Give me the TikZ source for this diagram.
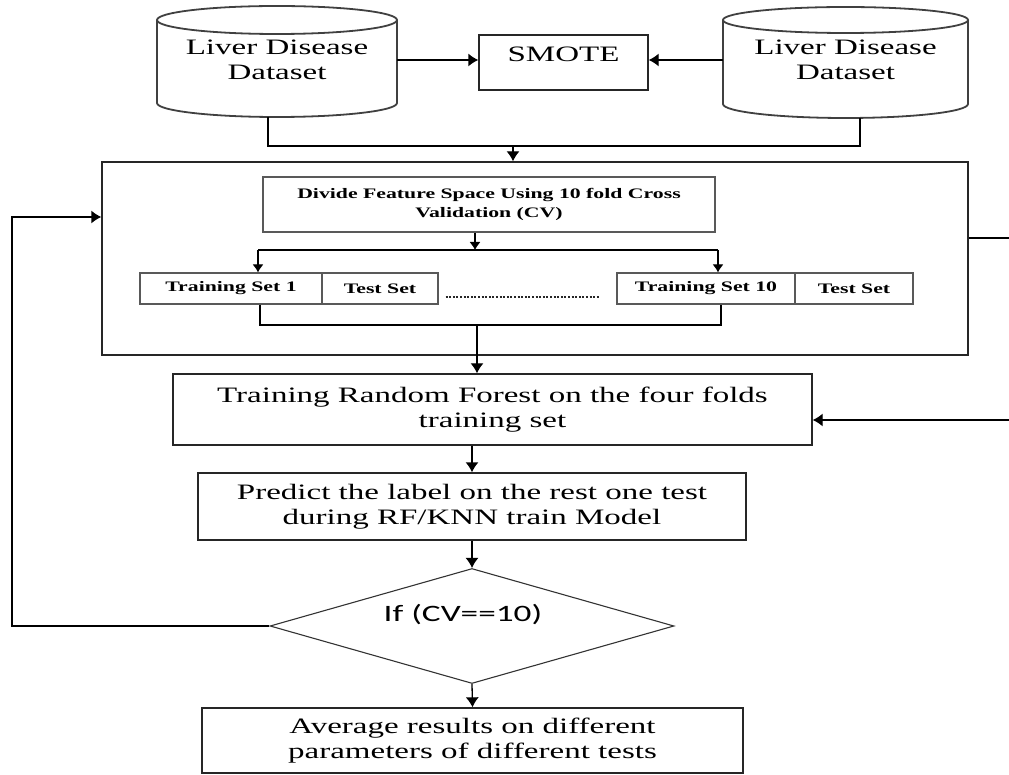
\documentclass[tikz,border=0pt]{standalone}
\usepackage{fontspec}
\setmainfont{Liberation Serif}[FakeStretch=1.5]
\newfontfamily\sansfnt{Carlito}[FakeStretch=1.5]
\usetikzlibrary{arrows.meta,shapes.geometric,calc}
\newcommand\bigfnt{\fontsize{22}{24.5}\selectfont}
\newcommand\smlfnt{\fontsize{14.5}{19}\selectfont\bfseries}
\begin{document}
\begin{tikzpicture}[x=1pt,y=-1pt,
  box/.style={draw=black!85, line width=1.3pt, inner sep=0pt, align=center, font=\bigfnt},
  sbox/.style={draw=black!65, line width=1.2pt, inner sep=0pt, align=center, font=\smlfnt},
  cyl/.style={draw=black!75, line width=1.8pt},
  ln/.style={line width=1.3pt},
  arr/.style={line width=1.3pt, -{Latex[length=10pt,width=13pt]}},
  sarr/.style={line width=1.1pt, -{Latex[length=8pt,width=11pt]}},
  dots/.style={draw=black!85, line width=1.4pt, dash pattern=on 2pt off 1.6pt}]
\useasboundingbox (0,0) rectangle (1009,775);
% left cylinder
\draw[cyl] (277,20) ellipse [x radius=120, y radius=14];
\draw[cyl] (157,20) -- (157,103) .. controls (157,110.7) and (210.7,117) .. (277,117)
  .. controls (343.3,117) and (397,110.7) .. (397,103) -- (397,20);
\node[inner sep=0pt, minimum width=240pt, align=center, font=\bigfnt] (ld1) at (277,60) {Liver Disease\\Dataset};
% right cylinder
\draw[cyl] (845.5,20) ellipse [x radius=122.5, y radius=13];
\draw[cyl] (723,20) -- (723,104) .. controls (723,111.7) and (777.8,118) .. (845.5,118)
  .. controls (913.2,118) and (968,111.7) .. (968,104) -- (968,20);
\node[inner sep=0pt, minimum width=245pt, align=center, font=\bigfnt] (rd1) at (845.5,60) {Liver Disease\\Dataset};
% SMOTE
\node[box, minimum width=169pt, minimum height=55pt, text depth=16pt] (smote) at (563.5,62.5) {SMOTE};
% big box and its contents
\node[box, minimum width=866pt, minimum height=193pt] (big) at (535,258.5) {};
\node[sbox, minimum width=452pt, minimum height=55pt] (div) at (489,204.5) {Divide Feature Space Using 10 fold Cross\\Validation (CV)};
\node[sbox, minimum width=182pt, minimum height=31pt] (ts1) at (231,288.5) {Training Set 1};
\node[sbox, minimum width=116pt, minimum height=31pt] (te1) at (380,288.5) {Test Set};
\node[sbox, minimum width=178pt, minimum height=31pt] (ts10) at (706,288.5) {Training Set 10};
\node[sbox, minimum width=118pt, minimum height=31pt] (te10) at (854,288.5) {Test Set};
% lower chain
\node[box, minimum width=639pt, minimum height=71pt] (rf) at (492.5,409.5) {Training Random Forest on the four folds\\training set};
\node[box, minimum width=548pt, minimum height=67pt] (pred) at (472,506.5) {Predict the label on the rest one test\\during RF/KNN train Model};
\node[diamond, draw=black!80, line width=1.1pt, aspect=3.5, minimum width=404pt, minimum height=115pt, inner sep=0pt,
  label={[font=\sansfnt\fontsize{23.5}{26}\selectfont, xshift=-9pt, yshift=11pt]center:If (CV==10)}] (dia) at (472,626) {};
\node[box, minimum width=541pt, minimum height=65pt] (avg) at (472.5,740.5) {Average results on different\\parameters of different tests};
% connectors
\draw[arr] (ld1.east) -- (ld1.east -| smote.west);
\draw[arr] (rd1.west) -- (rd1.west -| smote.east);
\coordinate (ld1b) at (268,117);
\coordinate (rd1b) at (860,118);
\coordinate (j1) at (513,146);
\draw[ln] (ld1b) |- (j1) -| (rd1b);
\draw[arr] (j1) -- (j1 |- big.north);
\coordinate (j2) at (475,250);
\coordinate (j2l) at (258,250);
\coordinate (j2r) at (718,250);
\draw[sarr] (div.south -| j2) -- (j2);
\draw[ln] (j2l) -- (j2r);
\draw[sarr] (j2l) -- (j2l |- ts1.north);
\draw[sarr] (j2r) -- (j2r |- ts10.north);
\draw[dots] ($(te1.east)+(7,8.5)$) -- ($(ts10.west)+(-17,8.5)$);
\coordinate (j3) at (477,325);
\draw[ln] ($(ts1.south)+(29,0)$) |- (j3) -| ($(ts10.south)+(15,0)$);
\draw[arr] (j3) -- (j3 |- rf.north);
\draw[arr] (rf.south -| pred.north) -- (pred.north);
\draw[arr] (pred.south) -- (dia.north);
\draw[arr] (dia.south) -- (avg.north);
\coordinate (fb) at (12,217);
\draw[arr] (dia.west) -| (fb) -- (fb -| big.west);
\coordinate (rt1) at (1009,238);
\draw[ln] (rt1 -| big.east) -- (rt1);
\coordinate (rt2) at (1009,420);
\draw[arr] (rt2) -- (rt2 -| rf.east);
\end{tikzpicture}
\end{document}
